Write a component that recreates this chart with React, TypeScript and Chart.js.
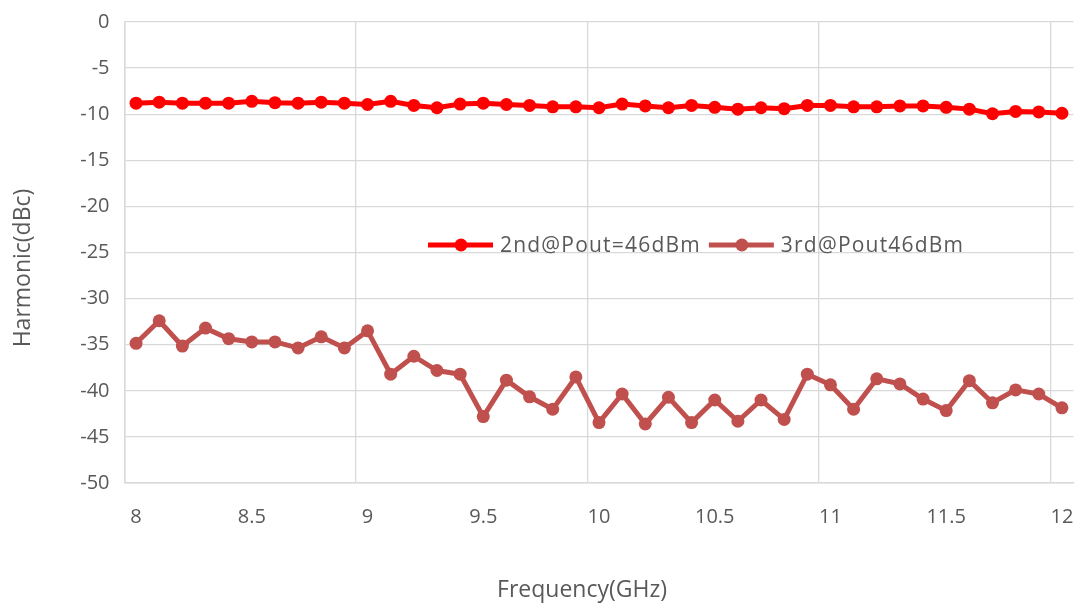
import React, { useEffect, useRef } from "react";
import { Chart, registerables } from "chart.js";

Chart.register(...registerables);

// Frequency points in GHz
const frequencies = [
  8.0, 8.1, 8.2, 8.3, 8.4, 8.5, 8.6, 8.7, 8.8, 8.9,
  9.0, 9.1, 9.2, 9.3, 9.4, 9.5, 9.6, 9.7, 9.8, 9.9,
  10.0, 10.1, 10.2, 10.3, 10.4, 10.5, 10.6, 10.7, 10.8, 10.9,
  11.0, 11.1, 11.2, 11.3, 11.4, 11.5, 11.6, 11.7, 11.8, 11.9,
  12.0,
];

// 2nd harmonic, dBc
const secondHarmonic = [
  -8.8, -8.7, -8.8, -8.8, -8.8, -8.6, -8.75, -8.8, -8.7, -8.8,
  -8.95, -8.6, -9.05, -9.3, -8.9, -8.8, -8.95, -9.05, -9.2, -9.2,
  -9.3, -8.9, -9.1, -9.3, -9.05, -9.25, -9.45, -9.3, -9.4, -9.05,
  -9.05, -9.2, -9.2, -9.1, -9.1, -9.25, -9.45, -9.95, -9.7, -9.75,
  -9.9,
];

// 3rd harmonic, dBc
const thirdHarmonic = [
  -34.85, -32.4, -35.15, -33.2, -34.35, -34.7, -34.7, -35.35, -34.15, -35.35,
  -33.5, -38.2, -36.25, -37.8, -38.2, -42.8, -38.85, -40.65, -42.0, -38.5,
  -43.45, -40.35, -43.6, -40.7, -43.45, -41.0, -43.3, -41.0, -43.1, -38.2,
  -39.35, -42.0, -38.7, -39.25, -40.9, -42.15, -38.9, -41.3, -39.9, -40.35,
  -41.85,
];

const seriesNames = ["2nd@Pout=46dBm", "3rd@Pout46dBm"];
const seriesColors = ["#ff0000", "#c0504d"];

const xTitle = "Frequency(GHz)";
const yTitle = "Harmonic(dBc)";

const FONT = "'Open Sans', 'DejaVu Sans', sans-serif";
const TEXT_COLOR = "#595959";
const GRID_COLOR = "#d9d9d9";

// Legend sits inside the plot; axis titles are placed around it.
const overlayPlugin = {
  id: "overlay",
  afterDraw(chart: any) {
    const ctx: CanvasRenderingContext2D = chart.ctx;
    ctx.save();

    // legend
    let x = 428;
    const y = 245;
    ctx.font = `21px ${FONT}`;
    (ctx as any).letterSpacing = "1.2px";
    ctx.textBaseline = "middle";
    ctx.textAlign = "left";
    seriesNames.forEach((name, i) => {
      const color = seriesColors[i];
      ctx.strokeStyle = color;
      ctx.lineWidth = 5;
      ctx.beginPath();
      ctx.moveTo(x, y);
      ctx.lineTo(x + 65, y);
      ctx.stroke();
      ctx.fillStyle = color;
      ctx.beginPath();
      ctx.arc(x + 33, y, 6.5, 0, Math.PI * 2);
      ctx.fill();
      ctx.fillStyle = TEXT_COLOR;
      ctx.fillText(name, x + 72, y + 1);
      x += 72 + ctx.measureText(name).width + 8;
    });

    // axis titles
    (ctx as any).letterSpacing = "0px";
    ctx.font = `23px ${FONT}`;
    ctx.fillStyle = TEXT_COLOR;
    ctx.textAlign = "center";
    ctx.fillText(xTitle, 582, 590);
    ctx.translate(23, 268);
    ctx.rotate(-Math.PI / 2);
    ctx.fillText(yTitle, 0, 0);
    ctx.restore();
  },
};

export default function App() {
  const canvasRef = useRef<HTMLCanvasElement | null>(null);

  useEffect(() => {
    const canvas = canvasRef.current;
    if (!canvas) return;
    const chart = new Chart(canvas, {
      type: "line",
      data: {
        labels: frequencies.map((f) => String(f)),
        datasets: [secondHarmonic, thirdHarmonic].map((values, i) => ({
          label: seriesNames[i],
          data: values,
          borderColor: seriesColors[i],
          backgroundColor: seriesColors[i],
          borderWidth: 5,
          pointRadius: 6.5,
          pointBorderWidth: 0,
          pointBackgroundColor: seriesColors[i],
          tension: 0,
        })),
      },
      options: {
        responsive: false,
        animation: false,
        layout: { padding: { left: 0, top: 22, right: 4, bottom: 0 } },
        plugins: {
          legend: { display: false },
          tooltip: { enabled: false },
        },
        scales: {
          x: {
            type: "category",
            offset: true,
            grid: {
              offset: true,
              drawTicks: false,
              color: (c: any) =>
                typeof c.index === "number" && c.index % 10 === 0 ? GRID_COLOR : "rgba(0,0,0,0)",
              lineWidth: 1.3,
            },
            border: { color: GRID_COLOR, width: 1.5 },
            ticks: {
              autoSkip: false,
              maxRotation: 0,
              padding: 22,
              color: TEXT_COLOR,
              font: { family: FONT, size: 20 },
              callback: (_v: any, idx: number) => (idx % 5 === 0 ? String(frequencies[idx]) : ""),
            },
            afterFit: (scale: any) => {
              scale.height = 121;
              scale.paddingLeft = 0;
              scale.paddingRight = 0;
            },
          },
          y: {
            min: -50,
            max: 0,
            grid: { color: GRID_COLOR, drawTicks: false, lineWidth: 1.3 },
            border: { color: GRID_COLOR, width: 1.5 },
            ticks: {
              stepSize: 5,
              padding: 15,
              color: TEXT_COLOR,
              font: { family: FONT, size: 20 },
            },
            afterFit: (scale: any) => {
              scale.width = 124.5;
              scale.paddingTop = 0;
              scale.paddingBottom = 0;
            },
          },
        },
      },
      plugins: [overlayPlugin],
    });
    return () => chart.destroy();
  }, []);

  return (
    <div style={{ position: "absolute", left: 0, top: 0, width: 1080, height: 604, background: "#fff" }}>
      <canvas ref={canvasRef} width={1080} height={604} style={{ display: "block" }} />
    </div>
  );
}
